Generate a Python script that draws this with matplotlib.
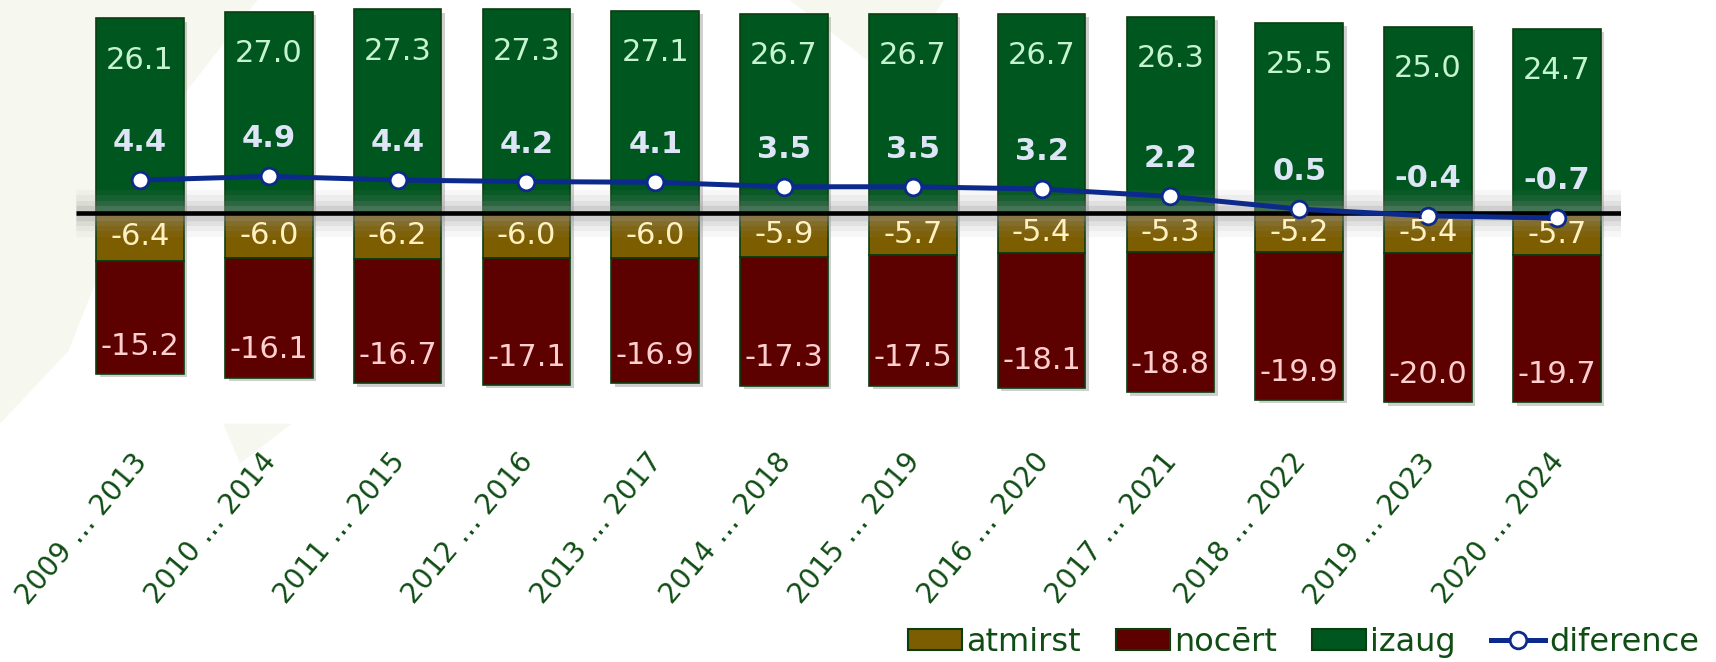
import numpy as np
import matplotlib.pyplot as plt
from matplotlib import patheffects as pe
from matplotlib.patches import Patch, Polygon
from matplotlib.lines import Line2D
from matplotlib.transforms import ScaledTranslation

# data
periods = ['2009 … 2013', '2010 … 2014', '2011 … 2015', '2012 … 2016',
           '2013 … 2017', '2014 … 2018', '2015 … 2019', '2016 … 2020',
           '2017 … 2021', '2018 … 2022', '2019 … 2023', '2020 … 2024']
izaug = [26.1, 27.0, 27.3, 27.3, 27.1, 26.7, 26.7, 26.7, 26.3, 25.5, 25.0, 24.7]
atmirst = [-6.4, -6.0, -6.2, -6.0, -6.0, -5.9, -5.7, -5.4, -5.3, -5.2, -5.4, -5.7]
nocert = [-15.2, -16.1, -16.7, -17.1, -16.9, -17.3, -17.5, -18.1, -18.8, -19.9, -20.0, -19.7]
diference = [4.4, 4.9, 4.4, 4.2, 4.1, 3.5, 3.5, 3.2, 2.2, 0.5, -0.4, -0.7]

c_iz = '#00561f'
c_at = '#7c5d00'
c_no = '#5c0000'
edge = '#0b3d10'
blue = '#0b2a8c'
txt_green = '#0f4d14'

fig = plt.figure(figsize=(17.16, 6.62), dpi=100)
fig.patch.set_facecolor('white')

# faint watermark shapes behind everything
for pts in ([(0, 1), (0.15, 1), (0.09, 0.80), (0.04, 0.47), (0, 0.36)],
            [(0.13, 0.36), (0.17, 0.36), (0.14, 0.30)],
            [(0.46, 1), (0.55, 1), (0.52, 0.88)]):
    fig.patches.append(Polygon(pts, closed=True, transform=fig.transFigure,
                               facecolor='#f6f8ef', edgecolor='none', zorder=-5))

ax = fig.add_axes([0.0441, 0.3746, 0.9007, 0.619])
ax.patch.set_alpha(0)
x = np.arange(len(periods))

shadow = [pe.SimplePatchShadow(offset=(2.5, -2.5), shadow_rgbFace='#777777', alpha=0.35), pe.Normal()]

b1 = ax.bar(x, izaug, width=0.68, color=c_iz, edgecolor=edge, lw=1.2, zorder=2)
b2 = ax.bar(x, atmirst, width=0.68, color=c_at, edgecolor=edge, lw=1.2, zorder=2)
b3 = ax.bar(x, nocert, width=0.68, bottom=atmirst, color=c_no, edgecolor=edge, lw=1.2, zorder=2)
for bars in (b1, b2, b3):
    for b in bars:
        b.set_path_effects(shadow)

# zero line with soft glow
for lw, a in [(34, 0.07), (26, 0.1), (18, 0.15), (11, 0.24)]:
    ax.axhline(0, color='#999999', lw=lw, alpha=a, zorder=3, solid_capstyle='butt')
ax.axhline(0, color='black', lw=3.3, zorder=4, solid_capstyle='butt')

ax.plot(x, diference, color=blue, lw=3.6, marker='o', ms=12, mfc='white',
        mec=blue, mew=2, zorder=5)

for i in x:
    ax.annotate(f'{izaug[i]:.1f}', (i, izaug[i]), xytext=(0, -30), textcoords='offset points',
                ha='center', va='center', color='#c6f4d0', fontsize=22, zorder=6)
    ax.annotate(f'{diference[i]:.1f}', (i, diference[i]), xytext=(0, 27), textcoords='offset points',
                ha='center', va='center', color='#dde5f6', fontsize=22, fontweight='bold', zorder=6)
    ax.text(i, atmirst[i] / 2, f'{atmirst[i]:.1f}', ha='center', va='center',
            color='#fff1c2', fontsize=22, zorder=6)
    ax.annotate(f'{nocert[i]:.1f}', (i, atmirst[i] + nocert[i]), xytext=(0, 20), textcoords='offset points',
                ha='center', va='center', color='#ffcfcf', fontsize=22, zorder=6)

ax.set_xlim(-0.5, 11.5)
ax.set_ylim(-27, 28)
ax.set_yticks([])
ax.set_xticks(x)
ax.set_xticklabels(periods, rotation=50, ha='right', va='center', rotation_mode='anchor',
                   fontsize=20, color=txt_green)
ax.tick_params(axis='x', length=0, pad=31)
shift = ScaledTranslation(0.02, 0, fig.dpi_scale_trans)
for lab in ax.get_xticklabels():
    lab.set_transform(lab.get_transform() + shift)
for s in ax.spines.values():
    s.set_visible(False)

handles = [Patch(facecolor=c_at, edgecolor=edge, lw=1.5),
           Patch(facecolor=c_no, edgecolor=edge, lw=1.5),
           Patch(facecolor=c_iz, edgecolor=edge, lw=1.5),
           Line2D([], [], color=blue, lw=3.6, marker='o', ms=12, mfc='white', mec=blue, mew=2)]
fig.legend(handles, ['atmirst', 'nocērt', 'izaug', 'diference'], loc='center right',
           bbox_to_anchor=(0.990, 0.030), ncol=4, frameon=False, fontsize=23,
           handlelength=1.7, handleheight=0.66, handletextpad=0.12, columnspacing=1.1,
           borderpad=0, borderaxespad=0, labelcolor=txt_green)

fig.savefig('out.png', dpi=100, facecolor='white')
